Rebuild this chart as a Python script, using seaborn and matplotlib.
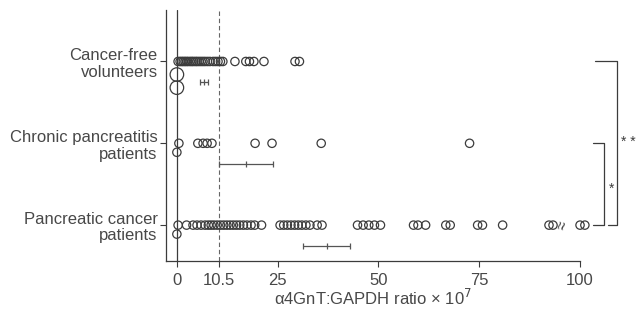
import matplotlib
matplotlib.use("Agg")
import matplotlib.pyplot as plt
import seaborn as sns
import pandas as pd
import numpy as np

# groups, top to bottom
groups = ["Cancer-free\nvolunteers", "Chronic pancreatitis\npatients", "Pancreatic cancer\npatients"]

# ratio x 10^7, one circle per sample (main row)
volunteer_ratio = [0.3, 0.8, 1.2, 1.6, 2.0, 2.4, 2.8, 3.3, 3.7, 4.1, 4.6, 5.0, 5.5, 6.0,
                   6.5, 7.0, 7.6, 8.2, 9.0, 9.6, 10.2, 10.8, 11.4,
                   14.4, 17.1, 18.0, 19.1, 21.6, 29.3, 30.4]
chronic_ratio = [0.5, 5.2, 6.5, 7.5, 8.7, 19.4, 23.6, 35.8, 72.6]
cancer_ratio = [0.3, 2.4,
                4.0, 5.0, 6.0, 7.0, 7.8, 8.5, 9.2, 10.0, 10.8, 11.6, 12.4, 13.2, 14.0,
                14.8, 15.6, 16.5, 17.4, 18.4, 19.3,
                21.0,
                25.6, 26.5, 27.4, 28.3, 29.2, 30.1, 31.0, 32.0, 33.0, 34.8, 36.0,
                44.8, 46.2, 47.6, 49.0, 50.5,
                58.7, 59.8, 61.7,
                66.7, 67.8,
                74.6, 75.8,
                80.8,
                92.3, 93.3,
                100.0, 101.2]
# zero values stacked under each row
stacked_zeros = [2, 1, 1]

# mean and SE range per group
group_mean = [6.7, 17.2, 37.3]
se_low = [5.7, 10.4, 31.3]
se_high = [7.7, 23.9, 43.0]

tick_values = [0, 10.5, 25, 50, 75, 100]
tick_labels = ["0", "10.5", "25", "50", "75", "100"]

sns.set_style("white")
plt.rcParams["font.family"] = ["Liberation Sans", "DejaVu Sans"]
ink = "#3c3c3c"
txt = "#484848"

rows = []
for i, vals in enumerate([volunteer_ratio, chronic_ratio, cancer_ratio]):
    for v in vals:
        rows.append({"ratio": v, "row": i, "big": False})
for i, n in enumerate(stacked_zeros):
    for k in range(n):
        big = i == 0
        step = 0.16 if big else 0.11
        rows.append({"ratio": 0.0, "row": i + step * (k + 1), "big": big})
df = pd.DataFrame(rows)

fig = plt.figure(figsize=(6.36, 3.2), dpi=100)
ax = fig.add_axes([0.261, 0.184, 0.651, 0.785])

ax.axvline(0, color=ink, lw=0.9, zorder=1)
ax.axvline(10.5, color="#666666", lw=0.8, ls=(0, (4, 2.5)), zorder=1)

small = df[~df["big"]]
big = df[df["big"]]
sns.scatterplot(data=small, x="ratio", y="row", ax=ax, s=36, marker="o",
                facecolors="none", edgecolor=ink, linewidth=0.9, legend=False, clip_on=False)
sns.scatterplot(data=big, x="ratio", y="row", ax=ax, s=95, marker="o",
                facecolors="none", edgecolor=ink, linewidth=0.9, legend=False, clip_on=False)

# mean +/- SE bars below each row
for i in range(3):
    y = i + 0.25
    ax.errorbar(group_mean[i], y,
                xerr=[[group_mean[i] - se_low[i]], [se_high[i] - group_mean[i]]],
                fmt="|", color="#555555", ms=5, mew=0.9, elinewidth=0.9,
                capsize=2.5, capthick=0.9)

# axis break mark on the cancer row
ax.text(95.8, 2, "≈", rotation=75, ha="center", va="center", fontsize=11, color=ink)

# significance brackets
kw = dict(color=ink, lw=0.9, clip_on=False)
ax.plot([103.2, 106.0, 106.0, 103.2], [1, 1, 2, 2], **kw)
ax.plot([103.7, 109.2, 109.2, 107.0], [0, 0, 2, 2], **kw)
ax.text(107.2, 1.55, "*", ha="left", va="center", fontsize=10, color=ink, clip_on=False)
ax.text(110.2, 0.98, "* *", ha="left", va="center", fontsize=10, color=ink, clip_on=False)

ax.set_xlim(-2.7, 100)
ax.set_ylim(2.44, -0.63)
ax.set_xticks(tick_values)
ax.set_xticklabels(tick_labels)
ax.set_yticks([0, 1, 2])
ax.set_yticklabels(groups, ha="right", linespacing=1.15)
ax.set_xlabel("α4GnT:GAPDH ratio × 10$^7$", fontsize=12, color=txt, labelpad=0)
ax.set_ylabel("")
ax.tick_params(axis="both", labelsize=12, labelcolor=txt, color=ink, direction="out",
               length=4, width=0.8, bottom=True, left=True)
ax.tick_params(axis="x", pad=4.5)
ax.tick_params(axis="y", pad=2)
sns.despine(ax=ax)
for s in ["left", "bottom"]:
    ax.spines[s].set_color(ink)
    ax.spines[s].set_linewidth(0.9)

fig.savefig("out.png", dpi=100)
